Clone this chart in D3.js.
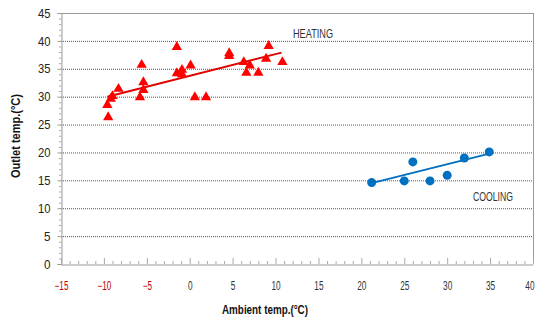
<!DOCTYPE html>
<html><head><meta charset="utf-8">
<script src="https://cdn.jsdelivr.net/npm/d3@7"></script>
<style>body{margin:0;background:#fff}svg{display:block}</style>
</head><body>
<svg id="c" width="539" height="320"></svg>
<script>
const heatingX = [-9.6,-9.5,-9.2,-9.0,-8.3,-5.8,-5.6,-5.4,-5.4,-1.5,-1.5,-0.9,-0.9,0.1,0.6,1.9,4.6,4.6,6.3,6.6,7.0,8.0,8.9,9.2,10.8];
const heatingY = [28.5,26.3,29.6,30.1,31.4,29.9,35.7,32.6,31.2,38.9,34.2,34.8,34.0,35.6,29.9,29.9,37.8,37.3,36.2,34.3,35.6,34.3,36.8,39.1,36.2];
const coolingX = [21.2,25.0,26.0,28.0,30.0,32.0,34.9];
const coolingY = [14.6,14.9,18.3,14.9,15.9,19.0,20.1];
const heatingTrendX = [-9.6,10.7];
const heatingTrendY = [30.0,37.9];
const coolingTrendX = [21.2,34.7];
const coolingTrendY = [14.5,19.7];
const xTicks = [-15,-10,-5,0,5,10,15,20,25,30,35,40];
const yTicks = [0,5,10,15,20,25,30,35,40,45];

const svg = d3.select("#c");
const L=61, R=533, T=13, B=264;
const x = d3.scaleLinear().domain([-15,40]).range([L,R]);
const y = d3.scaleLinear().domain([0,45]).range([B,T]);
const font = "'Liberation Sans', Arial, sans-serif";

// grid
svg.append("g").selectAll("line").data(yTicks.filter(v=>v>0&&v<45)).join("line")
  .attr("x1",L).attr("x2",R).attr("y1",d=>y(d)+0.5).attr("y2",d=>y(d)+0.5)
  .attr("stroke","#555").attr("stroke-width",1).attr("stroke-dasharray","1,1");
// frame
svg.append("line").attr("x1",L).attr("x2",R).attr("y1",T+0.5).attr("y2",T+0.5).attr("stroke","#999");
svg.append("line").attr("x1",R+0.5).attr("x2",R+0.5).attr("y1",T).attr("y2",B).attr("stroke","#999");

// y axis
const yAxis = d3.axisLeft(y).tickValues(yTicks).tickSize(4).tickPadding(7);
const gy = svg.append("g").attr("transform",`translate(${L+0.5},0)`).call(yAxis);
gy.select(".domain").attr("stroke","#999");
gy.selectAll(".tick line").attr("stroke","#999");
gy.selectAll("text").attr("font-family",font).attr("font-size",13).attr("fill","#222")
  .attr("textLength",d=>d<10?6.5:12.5).attr("lengthAdjust","spacingAndGlyphs");
const yMinor = d3.range(0,46,1).filter(v=>v%5!==0);
svg.append("g").selectAll("line").data(yMinor).join("line")
  .attr("x1",L-2).attr("x2",L+0.5).attr("y1",d=>y(d)+0.5).attr("y2",d=>y(d)+0.5).attr("stroke","#aaa");

// x axis
const xAxis = d3.axisBottom(x).tickValues(xTicks).tickSize(0).tickPadding(17);
const gx = svg.append("g").attr("transform",`translate(0,${B+0.5})`).call(xAxis);
gx.select(".domain").attr("stroke","#999");
gx.selectAll("text").attr("font-family",font).attr("font-size",12)
  .attr("fill",d=>d<0?"#c00000":"#333")
  .attr("textLength",d=>String(d).length*4.6).attr("lengthAdjust","spacingAndGlyphs");
gx.selectAll(".tick text").filter(d=>d===40).attr("text-anchor","end").attr("x",1);
svg.append("g").selectAll("line").data(d3.range(-15,41,1)).join("line")
  .attr("x1",d=>x(d)+0.5).attr("x2",d=>x(d)+0.5)
  .attr("y1",d=>d%5===0?B-6:B-3).attr("y2",B).attr("stroke","#aaa");

// trend lines
const line = d3.line().x(d=>x(d[0])).y(d=>y(d[1]));
svg.append("path").datum(d3.zip(heatingTrendX,heatingTrendY)).attr("d",line)
  .attr("stroke","#e00000").attr("stroke-width",2).attr("fill","none");
svg.append("path").datum(d3.zip(coolingTrendX,coolingTrendY)).attr("d",line)
  .attr("stroke","#0070c0").attr("stroke-width",2).attr("fill","none");

// markers
const tri = d3.symbol().type(d3.symbolTriangle).size(46);
svg.append("g").selectAll("path").data(d3.zip(heatingX,heatingY)).join("path")
  .attr("d",tri).attr("transform",d=>`translate(${x(d[0])},${y(d[1])})`).attr("fill","#ff0000");
svg.append("g").selectAll("circle").data(d3.zip(coolingX,coolingY)).join("circle")
  .attr("cx",d=>x(d[0])).attr("cy",d=>y(d[1])).attr("r",4.5).attr("fill","#0070c0");

// labels
svg.append("text").attr("x",293).attr("y",38).text("HEATING")
  .attr("font-family",font).attr("font-size",12).attr("fill","#333")
  .attr("textLength",40).attr("lengthAdjust","spacingAndGlyphs");
svg.append("text").attr("x",473).attr("y",201).text("COOLING")
  .attr("font-family",font).attr("font-size",12).attr("fill","#333")
  .attr("textLength",40).attr("lengthAdjust","spacingAndGlyphs");
svg.append("text").attr("x",222).attr("y",314).text("Ambient temp.(°C)")
  .attr("font-family",font).attr("font-size",13).attr("font-weight","bold").attr("fill","#111")
  .attr("textLength",86).attr("lengthAdjust","spacingAndGlyphs");
svg.append("text").attr("transform","translate(20,178) rotate(-90)").text("Outlet temp.(°C)")
  .attr("font-family",font).attr("font-size",13).attr("font-weight","bold").attr("fill","#111")
  .attr("textLength",84).attr("lengthAdjust","spacingAndGlyphs");
</script>
</body></html>
